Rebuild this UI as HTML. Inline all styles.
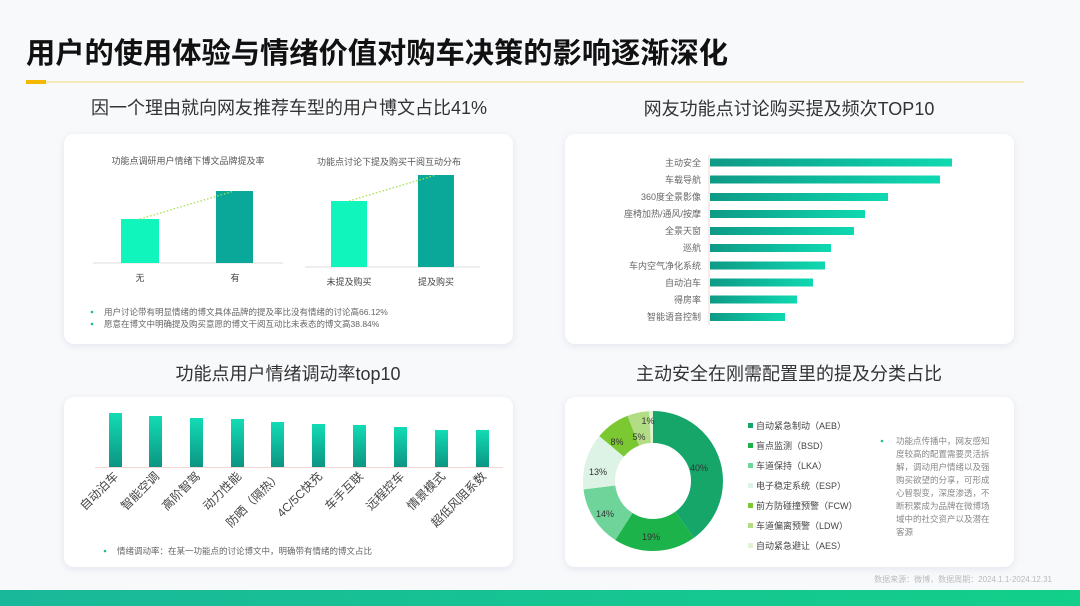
<!DOCTYPE html>
<html><head><meta charset="utf-8"><style>
body{margin:0;width:1080px;height:606px;background:#f7f8fa;overflow:hidden;font-family:"Liberation Sans","Noto Sans CJK SC",sans-serif;}
svg{position:absolute;left:0;top:0}
</style></head><body>
<svg width="1080" height="606" xmlns="http://www.w3.org/2000/svg" font-family="Liberation Sans, Noto Sans CJK SC, sans-serif">
<defs>
<linearGradient id="hb" x1="0" x2="1" y1="0" y2="0"><stop offset="0" stop-color="#0e9a86"/><stop offset="1" stop-color="#0fd9b0"/></linearGradient>
<linearGradient id="vb" x1="0" x2="0" y1="0" y2="1"><stop offset="0" stop-color="#12dcb4"/><stop offset="1" stop-color="#0c9582"/></linearGradient>
<linearGradient id="bot" x1="0" x2="1"><stop offset="0" stop-color="#1ab89a"/><stop offset="1" stop-color="#12cf8a"/></linearGradient>
<filter id="sh" x="-5%" y="-5%" width="110%" height="115%"><feDropShadow dx="0" dy="2" stdDeviation="4" flood-color="#b8bfd6" flood-opacity="0.35"/></filter>
</defs>
<rect width="1080" height="606" fill="#f8f9fb"/>
<text x="26" y="63" font-size="29" font-weight="bold" fill="#111" textLength="702" lengthAdjust="spacingAndGlyphs">用户的使用体验与情绪价值对购车决策的影响逐渐深化</text>
<rect x="26" y="80" width="20" height="4" fill="#f5b800"/>
<rect x="46" y="81.5" width="978" height="1" fill="#f6dc7a"/>
<text x="289" y="114" font-size="18" fill="#333" text-anchor="middle">因一个理由就向网友推荐车型的用户博文占比41%</text>
<text x="789" y="115" font-size="18" fill="#333" text-anchor="middle">网友功能点讨论购买提及频次TOP10</text>
<text x="288" y="380" font-size="18" fill="#333" text-anchor="middle">功能点用户情绪调动率top10</text>
<text x="789" y="380" font-size="18" fill="#333" text-anchor="middle">主动安全在刚需配置里的提及分类占比</text>
<g filter="url(#sh)" fill="#fff">
<rect x="64" y="134" width="449" height="210" rx="10"/>
<rect x="565" y="134" width="449" height="210" rx="10"/>
<rect x="64" y="397" width="449" height="170" rx="10"/>
<rect x="565" y="397" width="449" height="170" rx="10"/>
</g>
<g font-size="9" fill="#555" text-anchor="middle">
<text x="188" y="164">功能点调研用户情绪下博文品牌提及率</text>
<text x="389" y="165">功能点讨论下提及购买干阅互动分布</text>
</g>
<line x1="93" y1="263" x2="283" y2="263" stroke="#ddd"/>
<rect x="121" y="219" width="38" height="44" fill="#10f5bc"/>
<rect x="216" y="191" width="37" height="72" fill="#0aa899"/>
<line x1="140" y1="219" x2="234" y2="191" stroke="#a6e04c" stroke-dasharray="1.5,2" stroke-width="1.3"/>
<line x1="305" y1="267" x2="480" y2="267" stroke="#ddd"/>
<rect x="331" y="201" width="36" height="66" fill="#10f5bc"/>
<rect x="418" y="175" width="36" height="92" fill="#0aa899"/>
<line x1="349" y1="201" x2="436" y2="175" stroke="#a6e04c" stroke-dasharray="1.5,2" stroke-width="1.3"/>
<g font-size="9" fill="#444" text-anchor="middle">
<text x="140" y="281">无</text><text x="235" y="281">有</text>
<text x="349" y="285">未提及购买</text><text x="436" y="285">提及购买</text>
</g>
<g font-size="8.5" fill="#666">
<circle cx="92" cy="312" r="1.3" fill="#1cc08a"/><text x="104" y="315">用户讨论带有明显情绪的博文具体品牌的提及率比没有情绪的讨论高66.12%</text>
<circle cx="92" cy="324" r="1.3" fill="#1cc08a"/><text x="104" y="327">愿意在博文中明确提及购买意愿的博文干阅互动比未表态的博文高38.84%</text>
</g>
<line x1="709" y1="155" x2="709" y2="325" stroke="#f3d9cc"/>
<g fill="url(#hb)">
<rect x="710" y="158.5" width="242" height="8"/>
<rect x="710" y="175.5" width="230" height="8"/>
<rect x="710" y="193" width="178" height="8"/>
<rect x="710" y="210" width="155" height="8"/>
<rect x="710" y="227" width="144" height="8"/>
<rect x="710" y="244" width="121" height="8"/>
<rect x="710" y="261.5" width="115" height="8"/>
<rect x="710" y="278.5" width="103" height="8"/>
<rect x="710" y="295.5" width="87" height="8"/>
<rect x="710" y="313" width="75" height="8"/>
</g>
<g font-size="9" fill="#666" text-anchor="end">
<text x="701" y="166">主动安全</text><text x="701" y="183">车载导航</text><text x="701" y="200">360度全景影像</text>
<text x="701" y="217">座椅加热/通风/按摩</text><text x="701" y="234">全景天窗</text><text x="701" y="251">巡航</text>
<text x="701" y="269">车内空气净化系统</text><text x="701" y="286">自动泊车</text><text x="701" y="303">得房率</text><text x="701" y="320">智能语音控制</text>
</g>
<line x1="95" y1="467.5" x2="503" y2="467.5" stroke="#f2d8d0"/>
<g fill="url(#vb)">
<rect x="109" y="413" width="13" height="54"/><rect x="149" y="416" width="13" height="51"/>
<rect x="190" y="418" width="13" height="49"/><rect x="231" y="419" width="13" height="48"/>
<rect x="271" y="422" width="13" height="45"/><rect x="312" y="424" width="13" height="43"/>
<rect x="353" y="425" width="13" height="42"/><rect x="394" y="427" width="13" height="40"/>
<rect x="435" y="430" width="13" height="37"/><rect x="476" y="430" width="13" height="37"/>
</g>
<g font-size="12" fill="#444" text-anchor="end">
<text transform="translate(119,477) rotate(-45)">自动泊车</text>
<text transform="translate(160,477) rotate(-45)">智能空调</text>
<text transform="translate(201,477) rotate(-45)">高阶智驾</text>
<text transform="translate(242,477) rotate(-45)">动力性能</text>
<text transform="translate(282,477) rotate(-45)">防晒（隔热）</text>
<text transform="translate(323,477) rotate(-45)">4C/5C快充</text>
<text transform="translate(364,477) rotate(-45)">车手互联</text>
<text transform="translate(405,477) rotate(-45)">远程控车</text>
<text transform="translate(446,477) rotate(-45)">情景模式</text>
<text transform="translate(487,477) rotate(-45)">超低风阻系数</text>
</g>
<circle cx="105" cy="551" r="1.3" fill="#1cc08a"/>
<text x="117" y="554" font-size="8.5" fill="#666">情绪调动率：在某一功能点的讨论博文中，明确带有情绪的博文占比</text>
<g transform="rotate(-90 653 481)" fill="none" stroke-width="32">
<circle cx="653" cy="481" r="54" stroke="#16a66a" stroke-dasharray="135.7 339.3" stroke-dashoffset="0"/>
<circle cx="653" cy="481" r="54" stroke="#1db34b" stroke-dasharray="64.5 339.3" stroke-dashoffset="-135.7"/>
<circle cx="653" cy="481" r="54" stroke="#6fd49a" stroke-dasharray="47.5 339.3" stroke-dashoffset="-200.2"/>
<circle cx="653" cy="481" r="54" stroke="#dcf3e5" stroke-dasharray="44.1 339.3" stroke-dashoffset="-247.7"/>
<circle cx="653" cy="481" r="54" stroke="#7cc832" stroke-dasharray="27.1 339.3" stroke-dashoffset="-291.8"/>
<circle cx="653" cy="481" r="54" stroke="#b2dd84" stroke-dasharray="17 339.3" stroke-dashoffset="-318.9"/>
<circle cx="653" cy="481" r="54" stroke="#e2f2d4" stroke-dasharray="3.4 339.3" stroke-dashoffset="-335.9"/>
</g>
<g font-size="9" fill="#333" text-anchor="middle">
<text x="699" y="471">40%</text><text x="651" y="540">19%</text><text x="605" y="517">14%</text>
<text x="598" y="475">13%</text><text x="617" y="445">8%</text><text x="639" y="440">5%</text><text x="648" y="424">1%</text>
</g>
<g font-size="9" fill="#444">
<rect x="748" y="423" width="5" height="5" fill="#16a66a"/><text x="756" y="429">自动紧急制动（AEB）</text>
<rect x="748" y="443" width="5" height="5" fill="#1db34b"/><text x="756" y="449">盲点监测（BSD）</text>
<rect x="748" y="463" width="5" height="5" fill="#6fd49a"/><text x="756" y="469">车道保持（LKA）</text>
<rect x="748" y="483" width="5" height="5" fill="#dcf3e5"/><text x="756" y="489">电子稳定系统（ESP）</text>
<rect x="748" y="503" width="5" height="5" fill="#7cc832"/><text x="756" y="509">前方防碰撞预警（FCW）</text>
<rect x="748" y="523" width="5" height="5" fill="#b2dd84"/><text x="756" y="529">车道偏离预警（LDW）</text>
<rect x="748" y="543" width="5" height="5" fill="#e2f2d4"/><text x="756" y="549">自动紧急避让（AES）</text>
</g>
<circle cx="882" cy="441" r="1.3" fill="#1cc08a"/>
<g font-size="8.5" fill="#888">
<text x="896" y="444">功能点传播中，网友感知</text>
<text x="896" y="457">度较高的配置需要灵活拆</text>
<text x="896" y="470">解，调动用户情绪以及强</text>
<text x="896" y="483">购买欲望的分享，可形成</text>
<text x="896" y="496">心智裂变，深度渗透，不</text>
<text x="896" y="509">断积累成为品牌在微博场</text>
<text x="896" y="522">域中的社交资产以及潜在</text>
<text x="896" y="535">客源</text>
</g>
<text x="1052" y="582" font-size="8" fill="#bbb" text-anchor="end">数据来源：微博，数据周期：2024.1.1-2024.12.31</text>
<rect x="0" y="590" width="1080" height="16" fill="url(#bot)"/>
</svg>
</body></html>
